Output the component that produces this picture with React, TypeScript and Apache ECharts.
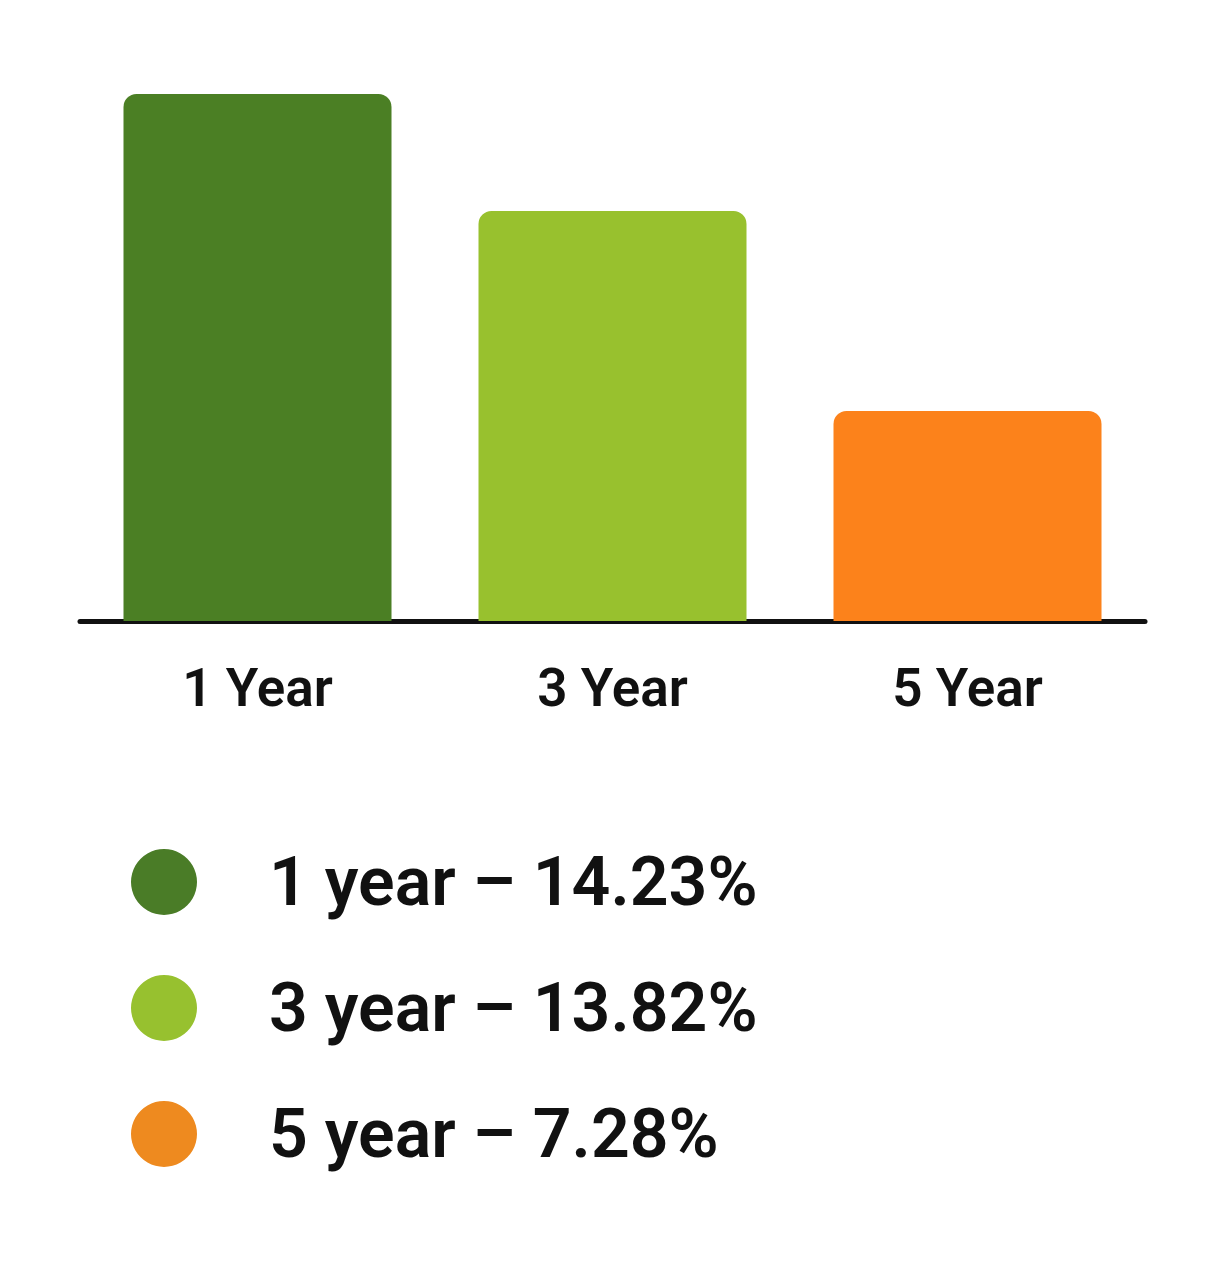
import React, { useEffect, useRef } from 'react';
import * as echarts from 'echarts';

const categories = ['1 Year', '3 Year', '5 Year'];
const seriesNames = ['1 year', '3 year', '5 year'];
// returns shown in the legend
const returns = [14.23, 13.82, 7.28];
// bar heights as drawn in the picture (1 Year bar = 14.23)
const barHeights = [14.23, 11.07, 5.67];
const colors = ['#4b7f24', '#98c12e', '#fc821b'];
const legendColors = ['#4a7c27', '#97c12f', '#ee8a1f'];

export default function App(): JSX.Element {
    const chartRef = useRef<HTMLDivElement>(null);

    useEffect(() => {
        if (chartRef.current === null) return;
        const chart = echarts.init(chartRef.current, undefined, { renderer: 'svg' });

        const series: echarts.SeriesOption[] = seriesNames.map((name, i) => ({
            type: 'bar',
            name,
            stack: 'all',
            barWidth: 268,
            itemStyle: { color: colors[i], borderRadius: [13, 13, 0, 0] },
            data: categories.map((_, j) => (j === i ? barHeights[i] : '-')),
        }));

        chart.setOption({
            animation: false,
            backgroundColor: '#ffffff',
            grid: { left: 80, right: 82, top: 94, bottom: 661 },
            xAxis: {
                type: 'category',
                data: categories,
                axisLine: { lineStyle: { color: '#111111', width: 5 } },
                axisTick: { show: false },
                axisLabel: {
                    margin: 40,
                    fontSize: 53,
                    fontWeight: 600,
                    fontFamily: 'Roboto',
                    color: '#111111',
                },
            },
            yAxis: { type: 'value', show: false, min: 0, max: 14.23 },
            legend: {
                orient: 'vertical',
                left: 131 - 5,
                top: 843,
                icon: 'circle',
                itemWidth: 66,
                itemHeight: 66,
                itemGap: 58,
                selectedMode: false,
                data: seriesNames.map((name, i) => ({
                    name,
                    itemStyle: { color: legendColors[i] },
                })),
                formatter: (name: string) => {
                    const i = seriesNames.indexOf(name);
                    return `${name} – ${returns[i].toFixed(2)}%`;
                },
                textStyle: {
                    fontSize: 68,
                    lineHeight: 66,
                    fontWeight: 600,
                    fontFamily: 'Roboto',
                    color: '#111111',
                    padding: [0, 0, 0, 67],
                },
            },
            series,
        });

        return () => {
            chart.dispose();
        };
    }, []);

    return (
        <div
            ref={chartRef}
            style={{ position: 'absolute', left: 0, top: 0, width: 1227, height: 1282 }}
        />
    );
}
